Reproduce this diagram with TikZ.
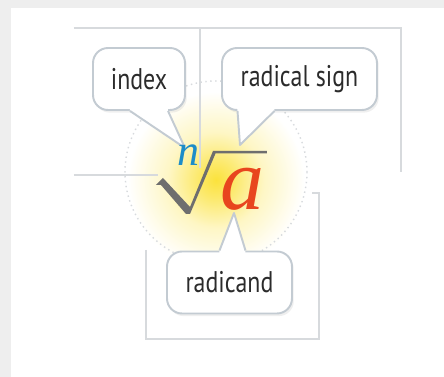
\documentclass[tikz,border=0pt]{standalone}
\usepackage{fontspec}
\usepackage{tikz}
\usetikzlibrary{calc,shadows}
\newfontfamily\bubblefont[FakeStretch=0.8]{PT Sans}
\newfontfamily\letterfont{Liberation Serif}
\definecolor{RDLine}{HTML}{D7DADD}
\definecolor{RDEdge}{HTML}{C3CBD2}
\definecolor{RDText}{HTML}{2B2B2B}
\definecolor{RDGlow}{HTML}{FBE23C}
\definecolor{RDBlue}{HTML}{1C8CC8}
\definecolor{RDRed}{HTML}{E8461E}
\definecolor{RDSign}{HTML}{6E6E6E}
\definecolor{RDFrame}{HTML}{EEEEEE}
\pgfdeclareradialshading{rdglow}{\pgfpoint{0bp}{0bp}}{color(0bp)=(RDGlow); color(5bp)=(RDGlow!75!white); color(13bp)=(RDGlow!30!white); color(24bp)=(white); color(100bp)=(white)}

\begin{document}
\begin{tikzpicture}[x=0.02cm,y=-0.02cm,
  bubble/.style={draw=RDEdge,line width=1.1pt,fill=white,rounded corners=0.3cm,
    minimum height=1.24cm,inner sep=0pt,text=RDText,
    font=\bubblefont\fontsize{17}{20}\selectfont,
    drop shadow={opacity=0.12,shadow xshift=1pt,shadow yshift=-1.5pt}},
  tailfill/.style={fill=white},
  tailedge/.style={draw=RDEdge,line width=1.1pt,line join=round},
  guide/.style={draw=RDLine,line width=1pt}]
\useasboundingbox (0,0) rectangle (444,377);
\fill[RDFrame] (0,0) rectangle (444,377);
\fill[white] (11,8) rectangle (444,377);
% glow behind the root
\shade[shading=rdglow] (216,180) circle (92);
\draw[RDLine,dotted,line width=0.8pt] (216,172) circle (91);
% guide lines
\draw[guide] (74,28) -- (401,28) -- (401,172);
\draw[guide] (200,28) -- (200,168);
\draw[guide] (74,175) -- (158,175);
\draw[guide] (146,250) -- (146,339) -- (319,339) -- (319,193) -- (312,193);
% callouts
\node[bubble,minimum width=1.84cm] (index) at (139,79) {index};
\node[bubble,minimum width=3.10cm] (sign) at (299.5,79) {radical sign};
\node[bubble,minimum width=2.50cm] (radicand) at (229.5,282.5) {radicand};
\coordinate (indextip) at (185,148);
\coordinate (signtip) at (240,145);
\coordinate (radicandtip) at (234,213);
\fill[tailfill] ($(index.south)+(-9,-3)$) -- ($(index.south)+(-9,0)$) -- (indextip)
  -- ($(index.south)+(29,0)$) -- ($(index.south)+(29,-3)$) -- cycle;
\draw[tailedge] ($(index.south)+(-9,0)$) -- (indextip) -- ($(index.south)+(29,0)$);
\fill[tailfill] ($(sign.south)+(-62,-3)$) -- ($(sign.south)+(-62,0)$) -- (signtip)
  -- ($(sign.south)+(-25,0)$) -- ($(sign.south)+(-25,-3)$) -- cycle;
\draw[tailedge] ($(sign.south)+(-62,0)$) -- (signtip) -- ($(sign.south)+(-25,0)$);
\fill[tailfill] ($(radicand.north)+(-10,3)$) -- ($(radicand.north)+(-10,0)$) -- (radicandtip)
  -- ($(radicand.north)+(16,0)$) -- ($(radicand.north)+(16,3)$) -- cycle;
\draw[tailedge] ($(radicand.north)+(-10,0)$) -- (radicandtip) -- ($(radicand.north)+(16,0)$);
% the root
\fill[RDSign] (156,185) -- (163,178) -- (190,207) -- (213,151) -- (267,151) -- (267,153.5)
  -- (215.5,153.5) -- (190,214) -- (186,214) -- (161,185) -- cycle;
\node[anchor=base,text=RDBlue,font=\letterfont\itshape\fontsize{25}{25}\selectfont] (n) at (188,166) {n};
\node[anchor=base,text=RDRed,font=\letterfont\itshape\fontsize{50}{50}\selectfont] (a) at (242,210) {a};
\end{tikzpicture}
\end{document}
